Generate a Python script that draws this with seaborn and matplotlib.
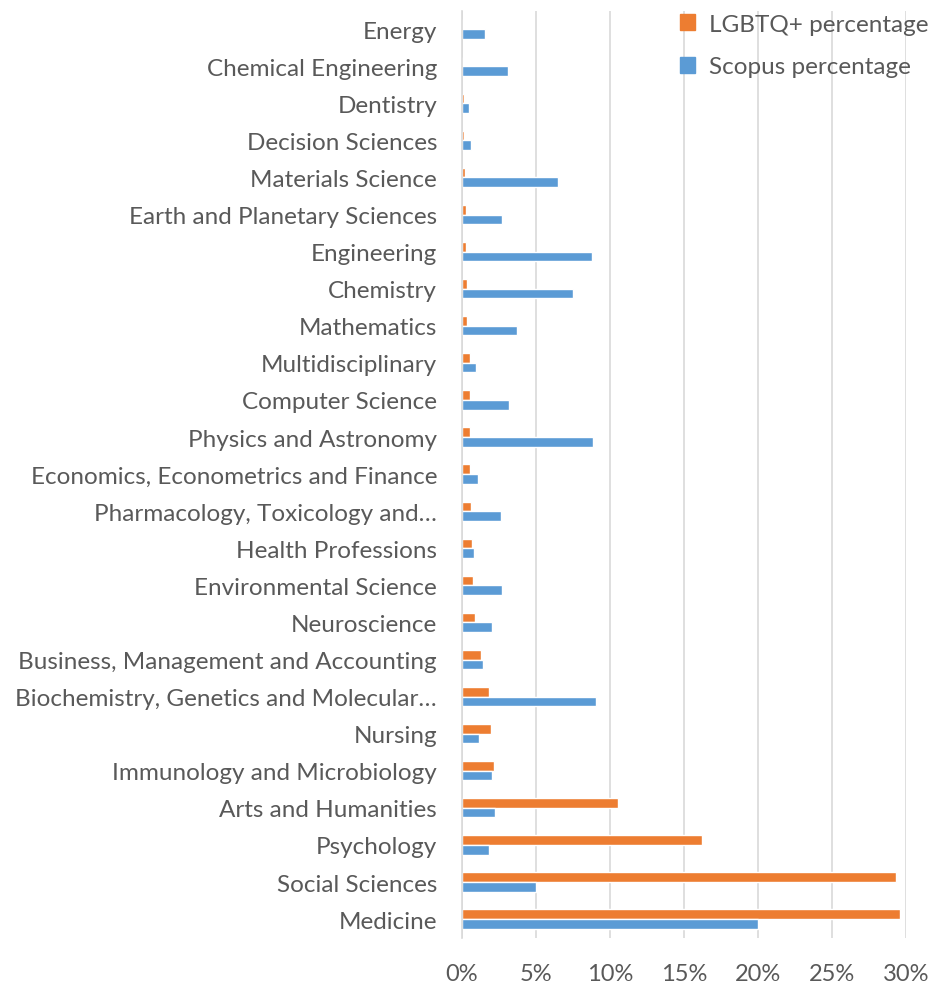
import pandas as pd
import matplotlib
matplotlib.use('Agg')
import matplotlib.pyplot as plt
import seaborn as sns
from matplotlib.ticker import PercentFormatter

# subject areas, top to bottom
subjects = [
    'Energy', 'Chemical Engineering', 'Dentistry', 'Decision Sciences',
    'Materials Science', 'Earth and Planetary Sciences', 'Engineering',
    'Chemistry', 'Mathematics', 'Multidisciplinary', 'Computer Science',
    'Physics and Astronomy', 'Economics, Econometrics and Finance',
    'Pharmacology, Toxicology and\u2026', 'Health Professions',
    'Environmental Science', 'Neuroscience',
    'Business, Management and Accounting',
    'Biochemistry, Genetics and Molecular\u2026', 'Nursing',
    'Immunology and Microbiology', 'Arts and Humanities', 'Psychology',
    'Social Sciences', 'Medicine',
]
lgbtq_pct = [0.00, 0.02, 0.15, 0.15, 0.18, 0.29, 0.29, 0.36, 0.36, 0.52,
             0.52, 0.54, 0.54, 0.59, 0.65, 0.74, 0.88, 1.31, 1.85, 1.99,
             2.19, 10.56, 16.2, 29.3, 29.6]
scopus_pct = [1.53, 3.10, 0.50, 0.59, 6.50, 2.71, 8.80, 7.52, 3.68, 0.95,
              3.14, 8.83, 1.06, 2.60, 0.81, 2.71, 2.00, 1.40, 9.05, 1.13,
              2.00, 2.21, 1.83, 5.03, 19.98]
series_names = ['LGBTQ+ percentage', 'Scopus percentage']
series_colors = ['#ED7D31', '#5B9BD5']

df = pd.DataFrame({
    'Subject': subjects * 2,
    'Series': [series_names[0]] * len(subjects) + [series_names[1]] * len(subjects),
    'Percent': lgbtq_pct + scopus_pct,
})

sns.set_style('white')
plt.rcParams['font.family'] = ['Lato', 'DejaVu Sans']
text_color = '#595959'

fig = plt.figure(figsize=(9.33, 9.87), dpi=100)
ax = fig.add_axes([0.4952, 0.049, 0.4761, 0.9393])

sns.barplot(data=df, y='Subject', x='Percent', hue='Series', order=subjects,
            hue_order=series_names, palette=series_colors, width=0.52, gap=0,
            orient='h', ax=ax, saturation=1, legend=False)

ax.set_xlim(0, 30)
ax.set_xticks([0, 5, 10, 15, 20, 25, 30])
ax.xaxis.set_major_formatter(PercentFormatter(decimals=0))
ax.set_xlabel('')
ax.set_ylabel('')
ax.xaxis.grid(True, color='#d9d9d9', linewidth=1.2)
ax.set_axisbelow(True)
for s in ['top', 'right', 'bottom']:
    ax.spines[s].set_visible(False)
ax.spines['left'].set_color('#d9d9d9')
ax.spines['left'].set_linewidth(1.2)
ax.tick_params(axis='y', length=0, pad=18, labelsize=17.5, labelcolor=text_color)
ax.tick_params(axis='x', length=0, pad=18, labelsize=17, labelcolor=text_color)

handles = [plt.Rectangle((0, 0), 1, 1, color=c) for c in series_colors]
fig.legend(handles, series_names, loc='upper right', bbox_to_anchor=(1.011, 1.0),
           frameon=False, fontsize=17.5, labelcolor=text_color,
           handlelength=0.6, handleheight=0.6, handletextpad=0.6,
           labelspacing=0.9, borderaxespad=0.2)

fig.savefig('out.png', dpi=100)
